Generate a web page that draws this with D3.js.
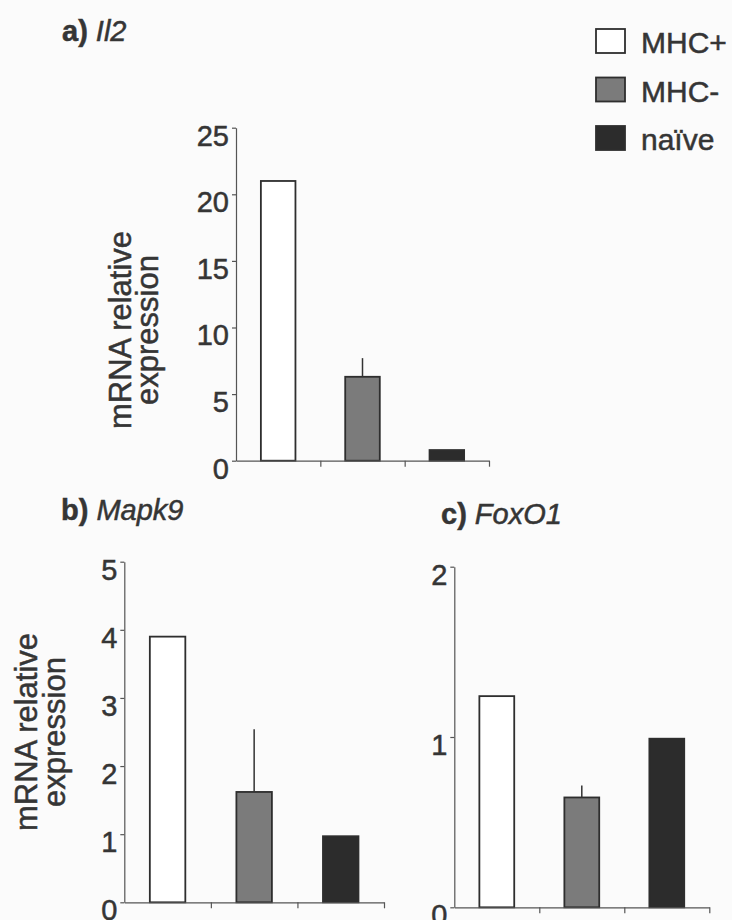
<!DOCTYPE html>
<html>
<head>
<meta charset="utf-8">
<script src="https://cdn.jsdelivr.net/npm/d3@7"></script>
<style>
  body { margin: 0; background: #fbfbfb; }
  svg { display: block; }
  text { font-family: "Liberation Sans", Arial, sans-serif; fill: #353535; stroke: #353535; stroke-width: 0.5px; }
</style>
</head>
<body>
<svg id="svg" width="732" height="920"></svg>
<script>
// groups and their fills
const groups = ["MHC+", "MHC-", "naïve"];
const fills = ["#ffffff", "#7b7b7b", "#2c2c2c"];

// a) Il2
const il2Values = [21.0, 6.3, 0.8];
const il2Err = [0, 1.4, 0];
const il2Ticks = [0, 5, 10, 15, 20, 25];

// b) Mapk9
const mapk9Values = [3.9, 1.62, 0.97];
const mapk9Err = [0, 0.92, 0];
const mapk9Ticks = [0, 1, 2, 3, 4, 5];

// c) FoxO1
const foxo1Values = [1.24, 0.645, 0.99];
const foxo1Err = [0, 0.07, 0];
const foxo1Ticks = [0, 1, 2];

const yLabelLines = ["mRNA relative", "expression"];

let svg = d3.select('#svg');

svg.append("rect").attr("width", 732).attr("height", 920).attr("fill", "#fbfbfb");

// panel layout (pixel frame of each plot)
let panels = [
  {letter: "a)", gene: "Il2", values: il2Values, err: il2Err, ticks: il2Ticks,
   x0: 236, x1: 489, y0: 460.7, y1: 127.7, titleX: 62, titleY: 41,
   label: {x: 131, dx: 27, y: 330}},
  {letter: "b)", gene: "Mapk9", values: mapk9Values, err: mapk9Err, ticks: mapk9Ticks,
   x0: 124.3, x1: 384, y0: 902.3, y1: 561.7, titleX: 61, titleY: 520,
   label: {x: 37, dx: 28, y: 732}},
  {letter: "c)", gene: "FoxO1", values: foxo1Values, err: foxo1Err, ticks: foxo1Ticks,
   x0: 454.3, x1: 709.3, y0: 907.3, y1: 566.7, titleX: 441, titleY: 524,
   label: null}
];

panels.forEach(p => {
  let y = d3.scaleLinear()
    .domain([0, d3.max(p.ticks)])
    .range([p.y0, p.y1]);
  let x = d3.scaleBand()
    .domain(groups)
    .range([p.x0, p.x1])
    .paddingInner(0.59)
    .paddingOuter(0.295);
  // category boundaries for the x ticks
  let xb = d3.scaleLinear().domain([0, groups.length]).range([p.x0, p.x1]);

  const g = svg.append("g");

  // bars
  g.append("g")
    .selectAll("rect")
    .data(p.values)
    .join("rect")
      .attr("x", (d, i) => x(groups[i]))
      .attr("width", x.bandwidth())
      .attr("y", d => y(d))
      .attr("height", d => p.y0 - y(d))
      .attr("fill", (d, i) => fills[i])
      .attr("stroke", "#2e2e2e")
      .attr("stroke-width", 1.8);

  // error bars (upper half only)
  g.append("g")
    .selectAll("line")
    .data(p.values.map((v, i) => ({v: v, e: p.err[i], k: groups[i]})).filter(d => d.e > 0))
    .join("line")
      .attr("x1", d => x(d.k) + x.bandwidth() / 2)
      .attr("x2", d => x(d.k) + x.bandwidth() / 2)
      .attr("y1", d => y(d.v))
      .attr("y2", d => y(d.v + d.e))
      .attr("stroke", "#333")
      .attr("stroke-width", 1.5);

  // y axis
  let yAxis = g.append("g")
    .attr("transform", `translate(${p.x0},0)`)
    .call(d3.axisLeft(y).tickValues(p.ticks).tickSize(4).tickSizeOuter(0).tickPadding(3).tickFormat(d3.format("d")));
  yAxis.select(".domain").attr("stroke", "#555").attr("stroke-width", 1.2);
  yAxis.selectAll(".tick line").attr("stroke", "#555").attr("stroke-width", 1.2);
  yAxis.selectAll(".tick text")
    .attr("font-size", 29)
    .attr("font-family", "Liberation Sans, Arial, sans-serif")
    .attr("fill", "#353535")
    .attr("dy", "0.6em");

  // x axis
  let xAxis = g.append("g")
    .attr("transform", `translate(0,${p.y0})`)
    .call(d3.axisBottom(xb).tickValues([1, 2, 3]).tickSize(6).tickSizeOuter(0).tickFormat(""));
  xAxis.select(".domain").attr("stroke", "#555").attr("stroke-width", 1.2);
  xAxis.selectAll(".tick line").attr("stroke", "#555").attr("stroke-width", 1.2);

  // title
  let t = svg.append("text")
    .attr("x", p.titleX)
    .attr("y", p.titleY)
    .attr("font-size", 29);
  t.append("tspan").attr("font-weight", "bold").text(p.letter);
  t.append("tspan").attr("font-style", "italic").text(" " + p.gene);

  // y label
  if (p.label) {
    yLabelLines.forEach((s, i) => {
      svg.append("text")
        .attr("transform", `translate(${p.label.x + i * p.label.dx},${p.label.y}) rotate(-90)`)
        .attr("text-anchor", "middle")
        .attr("font-size", 31)
        .text(s);
    });
  }
});

// legend
let legend = svg.append("g").attr("transform", "translate(596,29)");
let item = legend.selectAll("g")
  .data(groups)
  .join("g")
    .attr("transform", (d, i) => `translate(0,${i * 48.5})`);
item.append("rect")
  .attr("width", 29)
  .attr("height", 24)
  .attr("fill", (d, i) => fills[i])
  .attr("stroke", "#2e2e2e")
  .attr("stroke-width", 1.8);
item.append("text")
  .attr("x", 45)
  .attr("y", 24)
  .attr("font-size", 30)
  .text(d => d);
</script>
</body>
</html>
